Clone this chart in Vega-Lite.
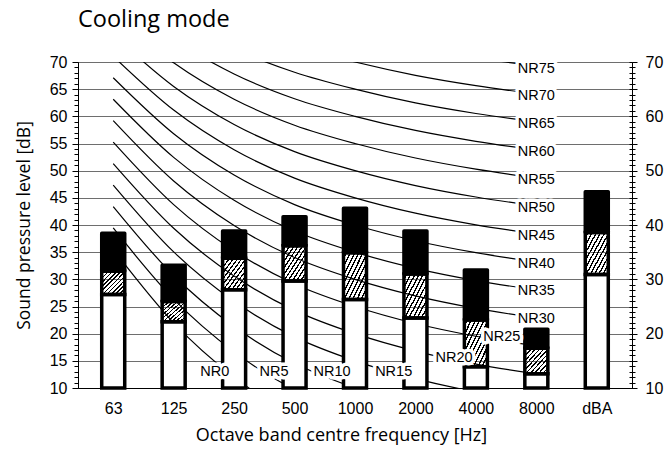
{
  "$schema": "https://vega.github.io/schema/vega-lite/v6.json",
  "autosize": "none",
  "width": 554,
  "height": 326,
  "padding": {"left": 78, "top": 62, "right": 33, "bottom": 64},
  "background": "white",
  "config": {
    "view": {"stroke": null},
    "axis": {"labelFont": "Liberation Sans", "labelFontSize": 16, "labelColor": "black", "titleFont": "Open Sans", "titleFontWeight": "normal", "titleColor": "black", "domainColor": "black", "tickColor": "black"}
  },
  "title": {"text": "Cooling mode", "anchor": "start", "frame": "group", "font": "Open Sans", "fontSize": 23.5, "fontWeight": "normal", "color": "black", "baseline": "alphabetic", "offset": 4},
  "datasets": {
    "bars": [
      {"band": "63", "xi": 0, "w": 27.2, "h": 31.5, "t": 38.5},
      {"band": "125", "xi": 1, "w": 22.2, "h": 25.9, "t": 32.6},
      {"band": "250", "xi": 2, "w": 28.1, "h": 33.9, "t": 38.9},
      {"band": "500", "xi": 3, "w": 29.7, "h": 36.2, "t": 41.5},
      {"band": "1000", "xi": 4, "w": 26.3, "h": 34.9, "t": 43.1},
      {"band": "2000", "xi": 5, "w": 22.9, "h": 31.0, "t": 38.9},
      {"band": "4000", "xi": 6, "w": 13.9, "h": 22.5, "t": 31.7},
      {"band": "8000", "xi": 7, "w": 12.6, "h": 17.3, "t": 20.8},
      {"band": "dBA", "xi": 8, "w": 30.9, "h": 38.6, "t": 46.1}
    ],
    "curves": [
      {"nr": 0, "xi": 0, "v": 35.5}, {"nr": 0, "xi": 1, "v": 22}, {"nr": 0, "xi": 2, "v": 12}, {"nr": 0, "xi": 3, "v": 4.8}, {"nr": 0, "xi": 4, "v": 0}, {"nr": 0, "xi": 5, "v": -3.5}, {"nr": 0, "xi": 6, "v": -6.1}, {"nr": 0, "xi": 7, "v": -8},
      {"nr": 5, "xi": 0, "v": 39.45}, {"nr": 5, "xi": 1, "v": 26.35}, {"nr": 5, "xi": 2, "v": 16.65}, {"nr": 5, "xi": 3, "v": 9.67}, {"nr": 5, "xi": 4, "v": 5}, {"nr": 5, "xi": 5, "v": 1.575}, {"nr": 5, "xi": 6, "v": -0.975}, {"nr": 5, "xi": 7, "v": -2.85},
      {"nr": 10, "xi": 0, "v": 43.4}, {"nr": 10, "xi": 1, "v": 30.7}, {"nr": 10, "xi": 2, "v": 21.3}, {"nr": 10, "xi": 3, "v": 14.54}, {"nr": 10, "xi": 4, "v": 10}, {"nr": 10, "xi": 5, "v": 6.65}, {"nr": 10, "xi": 6, "v": 4.15}, {"nr": 10, "xi": 7, "v": 2.3},
      {"nr": 15, "xi": 0, "v": 47.35}, {"nr": 15, "xi": 1, "v": 35.05}, {"nr": 15, "xi": 2, "v": 25.95}, {"nr": 15, "xi": 3, "v": 19.41}, {"nr": 15, "xi": 4, "v": 15}, {"nr": 15, "xi": 5, "v": 11.725}, {"nr": 15, "xi": 6, "v": 9.275}, {"nr": 15, "xi": 7, "v": 7.45},
      {"nr": 20, "xi": 0, "v": 51.3}, {"nr": 20, "xi": 1, "v": 39.4}, {"nr": 20, "xi": 2, "v": 30.6}, {"nr": 20, "xi": 3, "v": 24.28}, {"nr": 20, "xi": 4, "v": 20}, {"nr": 20, "xi": 5, "v": 16.8}, {"nr": 20, "xi": 6, "v": 14.4}, {"nr": 20, "xi": 7, "v": 12.6},
      {"nr": 25, "xi": 0, "v": 55.25}, {"nr": 25, "xi": 1, "v": 43.75}, {"nr": 25, "xi": 2, "v": 35.25}, {"nr": 25, "xi": 3, "v": 29.15}, {"nr": 25, "xi": 4, "v": 25}, {"nr": 25, "xi": 5, "v": 21.875}, {"nr": 25, "xi": 6, "v": 19.525}, {"nr": 25, "xi": 7, "v": 17.75},
      {"nr": 30, "xi": 0, "v": 59.2}, {"nr": 30, "xi": 1, "v": 48.1}, {"nr": 30, "xi": 2, "v": 39.9}, {"nr": 30, "xi": 3, "v": 34.02}, {"nr": 30, "xi": 4, "v": 30}, {"nr": 30, "xi": 5, "v": 26.95}, {"nr": 30, "xi": 6, "v": 24.65}, {"nr": 30, "xi": 7, "v": 22.9},
      {"nr": 35, "xi": 0, "v": 63.15}, {"nr": 35, "xi": 1, "v": 52.45}, {"nr": 35, "xi": 2, "v": 44.55}, {"nr": 35, "xi": 3, "v": 38.89}, {"nr": 35, "xi": 4, "v": 35}, {"nr": 35, "xi": 5, "v": 32.025}, {"nr": 35, "xi": 6, "v": 29.775}, {"nr": 35, "xi": 7, "v": 28.05},
      {"nr": 40, "xi": 0, "v": 67.1}, {"nr": 40, "xi": 1, "v": 56.8}, {"nr": 40, "xi": 2, "v": 49.2}, {"nr": 40, "xi": 3, "v": 43.76}, {"nr": 40, "xi": 4, "v": 40}, {"nr": 40, "xi": 5, "v": 37.1}, {"nr": 40, "xi": 6, "v": 34.9}, {"nr": 40, "xi": 7, "v": 33.2},
      {"nr": 45, "xi": 0, "v": 71.05}, {"nr": 45, "xi": 1, "v": 61.15}, {"nr": 45, "xi": 2, "v": 53.85}, {"nr": 45, "xi": 3, "v": 48.63}, {"nr": 45, "xi": 4, "v": 45}, {"nr": 45, "xi": 5, "v": 42.175}, {"nr": 45, "xi": 6, "v": 40.025}, {"nr": 45, "xi": 7, "v": 38.35},
      {"nr": 50, "xi": 0, "v": 75}, {"nr": 50, "xi": 1, "v": 65.5}, {"nr": 50, "xi": 2, "v": 58.5}, {"nr": 50, "xi": 3, "v": 53.5}, {"nr": 50, "xi": 4, "v": 50}, {"nr": 50, "xi": 5, "v": 47.25}, {"nr": 50, "xi": 6, "v": 45.15}, {"nr": 50, "xi": 7, "v": 43.5},
      {"nr": 55, "xi": 0, "v": 78.95}, {"nr": 55, "xi": 1, "v": 69.85}, {"nr": 55, "xi": 2, "v": 63.15}, {"nr": 55, "xi": 3, "v": 58.37}, {"nr": 55, "xi": 4, "v": 55}, {"nr": 55, "xi": 5, "v": 52.325}, {"nr": 55, "xi": 6, "v": 50.275}, {"nr": 55, "xi": 7, "v": 48.65},
      {"nr": 60, "xi": 0, "v": 82.9}, {"nr": 60, "xi": 1, "v": 74.2}, {"nr": 60, "xi": 2, "v": 67.8}, {"nr": 60, "xi": 3, "v": 63.24}, {"nr": 60, "xi": 4, "v": 60}, {"nr": 60, "xi": 5, "v": 57.4}, {"nr": 60, "xi": 6, "v": 55.4}, {"nr": 60, "xi": 7, "v": 53.8},
      {"nr": 65, "xi": 0, "v": 86.85}, {"nr": 65, "xi": 1, "v": 78.55}, {"nr": 65, "xi": 2, "v": 72.45}, {"nr": 65, "xi": 3, "v": 68.11}, {"nr": 65, "xi": 4, "v": 65}, {"nr": 65, "xi": 5, "v": 62.475}, {"nr": 65, "xi": 6, "v": 60.525}, {"nr": 65, "xi": 7, "v": 58.95},
      {"nr": 70, "xi": 0, "v": 90.8}, {"nr": 70, "xi": 1, "v": 82.9}, {"nr": 70, "xi": 2, "v": 77.1}, {"nr": 70, "xi": 3, "v": 72.98}, {"nr": 70, "xi": 4, "v": 70}, {"nr": 70, "xi": 5, "v": 67.55}, {"nr": 70, "xi": 6, "v": 65.65}, {"nr": 70, "xi": 7, "v": 64.1},
      {"nr": 75, "xi": 0, "v": 94.75}, {"nr": 75, "xi": 1, "v": 87.25}, {"nr": 75, "xi": 2, "v": 81.75}, {"nr": 75, "xi": 3, "v": 77.85}, {"nr": 75, "xi": 4, "v": 75}, {"nr": 75, "xi": 5, "v": 72.625}, {"nr": 75, "xi": 6, "v": 70.775}, {"nr": 75, "xi": 7, "v": 69.25}
    ],
    "labels": [
      {"label": "NR75", "xi": 7, "y": 68.8},
      {"label": "NR70", "xi": 7, "y": 63.8},
      {"label": "NR65", "xi": 7, "y": 58.6},
      {"label": "NR60", "xi": 7, "y": 53.5},
      {"label": "NR55", "xi": 7, "y": 48.3},
      {"label": "NR50", "xi": 7, "y": 43.2},
      {"label": "NR45", "xi": 7, "y": 38.0},
      {"label": "NR40", "xi": 7, "y": 32.9},
      {"label": "NR35", "xi": 7, "y": 27.8},
      {"label": "NR30", "xi": 7, "y": 22.7},
      {"label": "NR25", "xi": 6.43, "y": 19.4},
      {"label": "NR20", "xi": 5.64, "y": 15.5},
      {"label": "NR15", "xi": 4.64, "y": 13.0},
      {"label": "NR10", "xi": 3.62, "y": 13.0},
      {"label": "NR5", "xi": 2.66, "y": 12.9},
      {"label": "NR0", "xi": 1.68, "y": 13.0}
    ]
  },
  "encoding": {
    "x": {
      "field": "xi", "type": "quantitative",
      "scale": {"domain": [-0.5, 8.5], "nice": false, "zero": false},
      "axis": {
        "values": [0, 1, 2, 3, 4, 5, 6, 7, 8],
        "labelExpr": "['63','125','250','500','1000','2000','4000','8000','dBA'][datum.value]",
        "ticks": false, "grid": false, "domain": true, "labelPadding": 12,
        "title": "Octave band centre frequency [Hz]", "titleFontSize": 18, "titlePadding": 10, "titleX": 263
      }
    }
  },
  "resolve": {"axis": {"y": "independent"}},
  "layer": [
    {
      "data": {"name": "curves"},
      "mark": {"type": "line", "clip": true, "interpolate": "monotone", "color": "black", "strokeWidth": 1.2},
      "encoding": {
        "y": {"field": "v", "type": "quantitative", "scale": {"domain": [10, 70], "nice": false, "zero": false},
          "axis": {"orient": "left", "values": [10, 15, 20, 25, 30, 35, 40, 45, 50, 55, 60, 65, 70], "grid": true, "gridColor": "#6e6e6e", "gridWidth": 1, "tickSize": 6, "labelPadding": 5, "title": "Sound pressure level [dB]", "titleFontSize": 17.5, "titlePadding": 16}},
        "detail": {"field": "nr"}
      }
    },
    {
      "data": {"name": "bars"},
      "mark": {"type": "bar", "size": 23, "fill": "white", "stroke": "black", "strokeWidth": 3.5},
      "encoding": {
        "y": {"field": "w", "type": "quantitative", "scale": {"domain": [10, 70], "nice": false, "zero": false},
          "axis": {"orient": "left", "values": [10,11,12,13,14,15,16,17,18,19,20,21,22,23,24,25,26,27,28,29,30,31,32,33,34,35,36,37,38,39,40,41,42,43,44,45,46,47,48,49,50,51,52,53,54,55,56,57,58,59,60,61,62,63,64,65,66,67,68,69,70], "labels": false, "grid": false, "domain": false, "tickSize": 4, "title": null}},
        "y2": {"datum": 10}
      }
    },
    {
      "data": {"name": "bars"},
      "mark": {"type": "bar", "size": 23, "stroke": "black", "strokeWidth": 3.5,
        "fill": {"gradient": "linear", "x1": 0, "y1": 0, "x2": 1, "y2": 1, "stops": [
          {"offset": 0, "color": "rgba(255,255,255,0)"},
          {"offset": 0.045, "color": "rgba(255,255,255,0)"}, {"offset": 0.045, "color": "black"}, {"offset": 0.078, "color": "black"}, {"offset": 0.078, "color": "rgba(255,255,255,0)"},
          {"offset": 0.136, "color": "rgba(255,255,255,0)"}, {"offset": 0.136, "color": "black"}, {"offset": 0.169, "color": "black"}, {"offset": 0.169, "color": "rgba(255,255,255,0)"},
          {"offset": 0.227, "color": "rgba(255,255,255,0)"}, {"offset": 0.227, "color": "black"}, {"offset": 0.26, "color": "black"}, {"offset": 0.26, "color": "rgba(255,255,255,0)"},
          {"offset": 0.318, "color": "rgba(255,255,255,0)"}, {"offset": 0.318, "color": "black"}, {"offset": 0.351, "color": "black"}, {"offset": 0.351, "color": "rgba(255,255,255,0)"},
          {"offset": 0.409, "color": "rgba(255,255,255,0)"}, {"offset": 0.409, "color": "black"}, {"offset": 0.442, "color": "black"}, {"offset": 0.442, "color": "rgba(255,255,255,0)"},
          {"offset": 0.5, "color": "rgba(255,255,255,0)"}, {"offset": 0.5, "color": "black"}, {"offset": 0.533, "color": "black"}, {"offset": 0.533, "color": "rgba(255,255,255,0)"},
          {"offset": 0.591, "color": "rgba(255,255,255,0)"}, {"offset": 0.591, "color": "black"}, {"offset": 0.624, "color": "black"}, {"offset": 0.624, "color": "rgba(255,255,255,0)"},
          {"offset": 0.682, "color": "rgba(255,255,255,0)"}, {"offset": 0.682, "color": "black"}, {"offset": 0.715, "color": "black"}, {"offset": 0.715, "color": "rgba(255,255,255,0)"},
          {"offset": 0.773, "color": "rgba(255,255,255,0)"}, {"offset": 0.773, "color": "black"}, {"offset": 0.806, "color": "black"}, {"offset": 0.806, "color": "rgba(255,255,255,0)"},
          {"offset": 0.864, "color": "rgba(255,255,255,0)"}, {"offset": 0.864, "color": "black"}, {"offset": 0.897, "color": "black"}, {"offset": 0.897, "color": "rgba(255,255,255,0)"},
          {"offset": 0.955, "color": "rgba(255,255,255,0)"}, {"offset": 0.955, "color": "black"}, {"offset": 0.988, "color": "black"}, {"offset": 0.988, "color": "rgba(255,255,255,0)"},
          {"offset": 1, "color": "rgba(255,255,255,0)"}
        ]}},
      "encoding": {
        "y": {"field": "h", "type": "quantitative", "scale": {"domain": [10, 70], "nice": false, "zero": false},
          "axis": {"orient": "right", "values": [10, 15, 20, 25, 30, 35, 40, 45, 50, 55, 60, 65, 70], "labelExpr": "datum.value % 10 == 0 ? datum.label : ''", "grid": false, "domain": true, "tickSize": 5, "labelPadding": 8, "title": null}},
        "y2": {"field": "w"}
      }
    },
    {
      "data": {"name": "bars"},
      "mark": {"type": "bar", "size": 23, "fill": "black", "stroke": "black", "strokeWidth": 3.5, "strokeJoin": "round"},
      "encoding": {
        "y": {"field": "t", "type": "quantitative", "scale": {"domain": [10, 70], "nice": false, "zero": false},
          "axis": {"orient": "right", "values": [10,11,12,13,14,15,16,17,18,19,20,21,22,23,24,25,26,27,28,29,30,31,32,33,34,35,36,37,38,39,40,41,42,43,44,45,46,47,48,49,50,51,52,53,54,55,56,57,58,59,60,61,62,63,64,65,66,67,68,69,70], "labels": false, "grid": false, "domain": false, "tickSize": 3, "title": null}},
        "y2": {"field": "h"}
      }
    },
    {
      "data": {"name": "labels"},
      "mark": {"type": "text", "font": "Liberation Sans", "fontSize": 14.5, "fill": "white", "stroke": "white", "strokeWidth": 7, "strokeJoin": "round"},
      "encoding": {
        "y": {"field": "y", "type": "quantitative", "scale": {"domain": [10, 70], "nice": false, "zero": false},
          "axis": {"orient": "right", "values": [10,11,12,13,14,15,16,17,18,19,20,21,22,23,24,25,26,27,28,29,30,31,32,33,34,35,36,37,38,39,40,41,42,43,44,45,46,47,48,49,50,51,52,53,54,55,56,57,58,59,60,61,62,63,64,65,66,67,68,69,70], "labels": false, "grid": false, "domain": false, "tickSize": -3, "title": null}},
        "text": {"field": "label"}
      }
    },
    {
      "data": {"name": "labels"},
      "mark": {"type": "text", "font": "Liberation Sans", "fontSize": 14.5, "fill": "black"},
      "encoding": {
        "y": {"field": "y", "type": "quantitative", "scale": {"domain": [10, 70], "nice": false, "zero": false}, "axis": null},
        "text": {"field": "label"}
      }
    }
  ]
}
